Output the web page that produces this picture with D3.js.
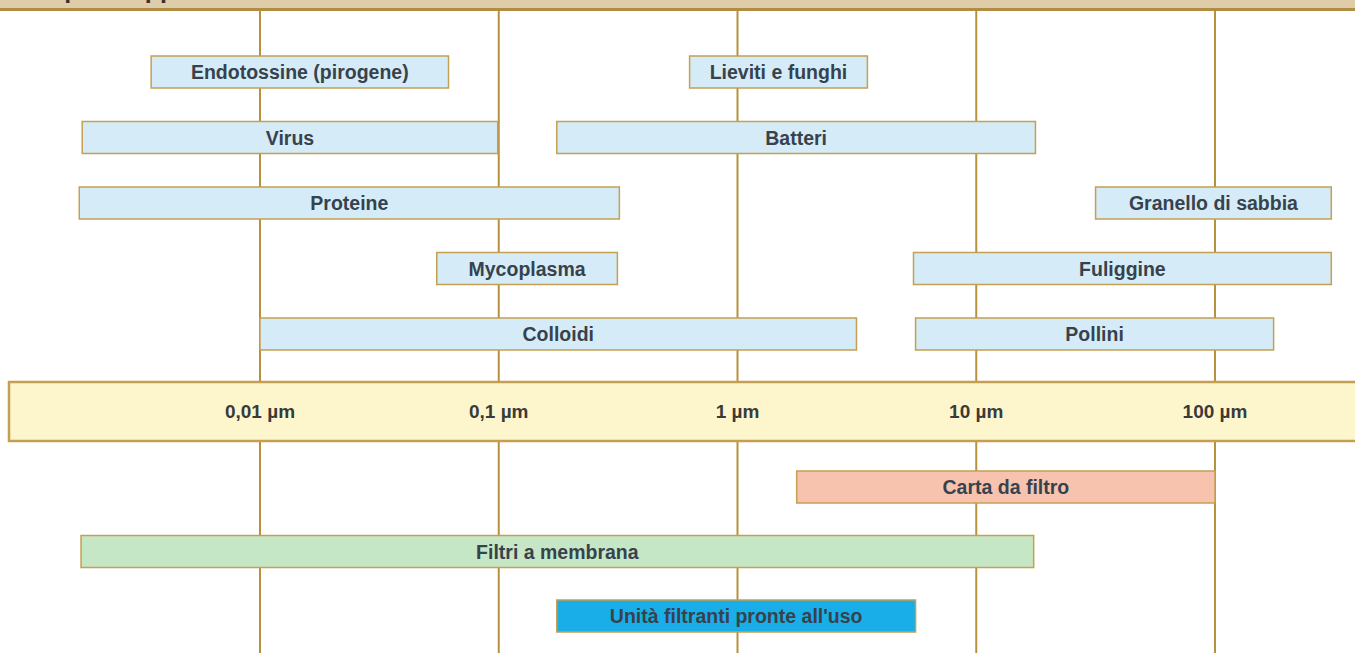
<!DOCTYPE html>
<html>
<head>
<meta charset="utf-8">
<script src="https://cdn.jsdelivr.net/npm/d3@7"></script>
<style>
  body { margin: 0; background: #fff; }
  svg { display: block; }
</style>
</head>
<body>
<div id="chart"></div>
<script>
// Particle sizes (µm) above the scale, filter ranges below
const particles = ["Endotossine (pirogene)", "Lieviti e funghi", "Virus", "Batteri", "Proteine",
                   "Granello di sabbia", "Mycoplasma", "Fuliggine", "Colloidi", "Pollini"];
const particleRow = [0, 0, 1, 1, 2, 2, 3, 3, 4, 4];
const particleMin = [0.0035, 0.63, 0.0018, 0.175, 0.00175, 31.6, 0.055, 5.46, 0.01, 5.57];
const particleMax = [0.0616, 3.5, 0.099, 17.7, 0.32, 307, 0.314, 307, 3.15, 176];

const filters = ["Carta da filtro", "Filtri a membrana", "Unità filtranti pronte all'uso"];
const filterRow = [0, 1, 2];
const filterMin = [1.77, 0.00178, 0.175];
const filterMax = [100, 17.4, 5.57];
const filterColor = ["#f8c3ae", "#c6e7c6", "#1aaee8"];

const ticks = [0.01, 0.1, 1, 10, 100];
const tickLabels = ["0,01 µm", "0,1 µm", "1 µm", "10 µm", "100 µm"];

const w = 1355, h = 653;
const svg = d3.select("#chart").append("svg").attr("width", w).attr("height", h);

const x = d3.scaleLog().domain([0.01, 100]).range([260, 1215]);
const yTop = d3.scaleLinear().domain([0, 4]).range([56, 318]);
const yBot = d3.scaleLinear().domain([0, 2]).range([471, 600]);
const barH = 32;
const lineCol = "#b8913c";
const font = "'Liberation Sans', Arial, sans-serif";

// header strip (mostly cropped off the top)
svg.append("rect").attr("x", 0).attr("y", 0).attr("width", w).attr("height", 9).attr("fill", "#dfcca8");
svg.append("text").attr("x", 10).attr("y", -2).text("Campo di applicazione")
  .style("font-family", font).style("font-weight", "bold").style("font-size", "25px").attr("fill", "#333");
svg.append("line").attr("x1", 0).attr("x2", w).attr("y1", 9.5).attr("y2", 9.5)
  .attr("stroke", "#b08c45").attr("stroke-width", 3);

// vertical decade lines
svg.selectAll(".vline").data(ticks).enter().append("line")
  .attr("class", "vline")
  .attr("x1", d => x(d)).attr("x2", d => x(d))
  .attr("y1", 11).attr("y2", h)
  .attr("stroke", lineCol).attr("stroke-width", 2);

const particleData = particles.map((n, i) => ({name: n, row: particleRow[i], lo: particleMin[i], hi: particleMax[i]}));
const filterData = filters.map((n, i) => ({name: n, row: filterRow[i], lo: filterMin[i], hi: filterMax[i], color: filterColor[i]}));

function drawBars(data, yScale, fillFn) {
  const g = svg.append("g").selectAll("g").data(data).enter().append("g");
  g.append("rect")
    .attr("x", d => x(d.lo))
    .attr("y", d => yScale(d.row))
    .attr("width", d => x(d.hi) - x(d.lo))
    .attr("height", barH)
    .attr("fill", fillFn)
    .attr("stroke", "#c4a052")
    .attr("stroke-width", 1.5);
  g.append("text")
    .attr("x", d => (x(d.lo) + Math.min(x(d.hi), w)) / 2)
    .attr("y", d => yScale(d.row) + barH / 2 + 7)
    .attr("text-anchor", "middle")
    .text(d => d.name)
    .style("font-family", font)
    .style("font-weight", "bold")
    .style("font-size", "19.5px")
    .attr("fill", "#37424d");
}

drawBars(particleData, yTop, () => "#d5ecf8");
drawBars(filterData, yBot, d => d.color);

// size scale band
svg.append("rect").attr("x", 9).attr("y", 382).attr("width", w).attr("height", 59)
  .attr("fill", "#fdf6cc").attr("stroke", "#c49f52").attr("stroke-width", 2.5);
svg.selectAll(".tick").data(ticks).enter().append("text")
  .attr("class", "tick")
  .attr("x", d => x(d)).attr("y", 418)
  .attr("text-anchor", "middle")
  .text((d, i) => tickLabels[i])
  .style("font-family", font).style("font-weight", "bold").style("font-size", "19px")
  .attr("fill", "#3a3a3a");
</script>
</body>
</html>
